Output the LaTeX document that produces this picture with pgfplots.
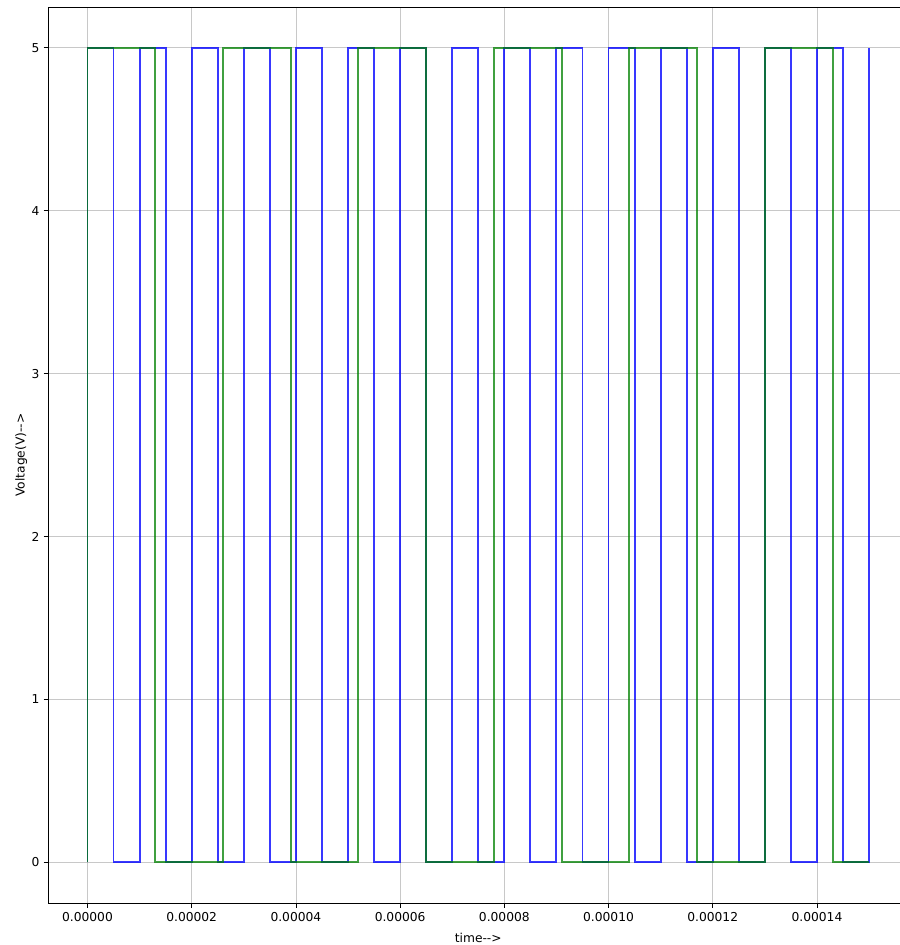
\documentclass[border=0pt]{standalone}
\usepackage{fontspec}
\setmainfont{DejaVu Sans}
\usepackage{pgfplots}
\pgfplotsset{compat=1.18}

% square-wave samples: (time, level), drawn as step functions
\pgfplotstableread{
t v
0 0
0 5
0.000005 0
0.00001 5
0.000015 0
0.00002 5
0.000025 0
0.00003 5
0.000035 0
0.00004 5
0.000045 0
0.00005 5
0.000055 0
0.00006 5
0.000065 0
0.00007 5
0.000075 0
0.00008 5
0.000085 0
0.00009 5
0.000095 0
0.0001 5
0.000105 0
0.00011 5
0.000115 0
0.00012 5
0.000125 0
0.00013 5
0.000135 0
0.00014 5
0.000145 0
0.00015 5
}\clockA

\pgfplotstableread{
t v
0 0
0 5
0.000013 0
0.000026 5
0.000039 0
0.000052 5
0.000065 0
0.000078 5
0.000091 0
0.000104 5
0.000117 0
0.00013 5
0.000143 0
0.00015 0
}\clockB

\definecolor{gridgray}{HTML}{B0B0B0}
\definecolor{wblue}{HTML}{0000FF}
\definecolor{wgreen}{HTML}{008000}

\begin{document}
\fontsize{9.2pt}{11pt}\selectfont
\begin{tikzpicture}
\begin{axis}[
  scale only axis,
  width=644.8pt, height=672pt,
  xmin=-0.0000075, xmax=0.0001575,
  ymin=-0.25, ymax=5.25,
  xtick={0,0.00002,0.00004,0.00006,0.00008,0.0001,0.00012,0.00014},
  xticklabels={0.00000,0.00002,0.00004,0.00006,0.00008,0.00010,0.00012,0.00014},
  scaled x ticks=false,
  ytick={0,1,2,3,4,5},
  /pgf/number format/assume math mode=true,
  tick label style={font=\fontsize{9.2pt}{11pt}\selectfont},
  label style={font=\fontsize{9.2pt}{11pt}\selectfont},
  xlabel={time-{}->},
  ylabel={Voltage(V)-{}->},
  xlabel style={yshift=-2.5pt},
  ylabel style={yshift=-3pt},
  grid=major,
  major grid style={gridgray, opacity=0.7, line width=0.6pt},
  axis line style={black, line width=0.6pt},
  tick align=outside,
  major tick length=3.5pt,
  tick style={black, line width=0.6pt},
  xtick pos=bottom, ytick pos=left,
]
\addplot[const plot, wblue, opacity=0.78, line width=1.4pt] table[x=t, y=v] {\clockA};
\addplot[const plot, wgreen, opacity=0.75, line width=1.4pt] table[x=t, y=v] {\clockB};
\end{axis}
\pgfresetboundingbox
\path[use as bounding box] ([xshift=-36.3pt, yshift=-31.5pt]current axis.south west) rectangle ([xshift=638pt, yshift=5.25pt]current axis.north west);
\end{tikzpicture}
\end{document}
